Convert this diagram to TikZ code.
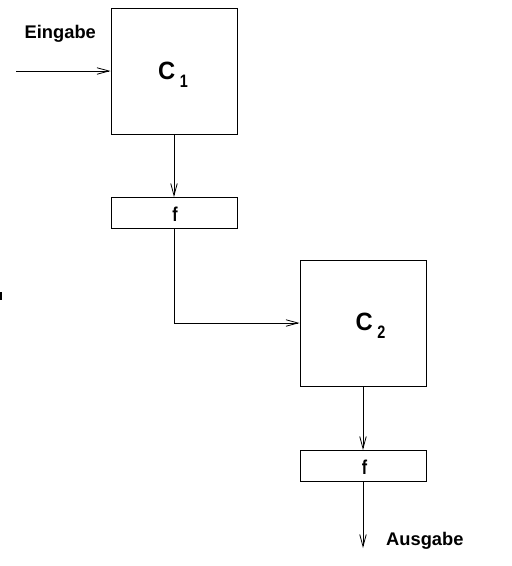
\documentclass[tikz,border=0pt]{standalone}
\usepackage{fontspec}
\setmainfont{Liberation Sans}
\newfontfamily\condfont[FakeStretch=0.8]{Liberation Sans}
\newfontfamily\cfont[FakeStretch=0.95]{Liberation Sans}
\usetikzlibrary{arrows.meta,positioning}
\newcommand{\subtxt}[1]{\raisebox{-8.5pt}{\condfont\bfseries\fontsize{18}{18}\selectfont #1}}
\begin{document}
\begin{tikzpicture}[x=1pt,y=-1pt,
  blk/.style={draw,line width=1pt,minimum width=126pt,minimum height=126pt,inner sep=0pt},
  fbox/.style={draw,line width=1pt,minimum width=126pt,minimum height=31pt,inner sep=0pt},
  ftxt/.style={font=\condfont\bfseries\fontsize{20}{20}\selectfont,inner sep=0pt,anchor=base},
  lbl/.style={font=\bfseries\fontsize{18.3}{18.3}\selectfont,inner sep=0pt,anchor=base west},
  ctxt/.style={font=\cfont\bfseries\fontsize{25}{25}\selectfont,inner sep=0pt,anchor=base west},
  conn/.style={line width=0.9pt,-{Straight Barb[length=12pt,width=6.5pt,line width=0.8pt]}}]
\useasboundingbox (0,0) rectangle (512,566);
\node[blk] (c1) at (174,71) {};
\node[ctxt] (c1t) at (157.8,79) {C\hspace{4.6pt}\subtxt{1}};
\node[fbox] (f1) at (174,213) {};
\node[ftxt] (f1t) at (175,221) {f};
\node[blk] (c2) at (363,323) {};
\node[ctxt] (c2t) at (355.5,330) {C\hspace{4.6pt}\subtxt{2}};
\node[fbox] (f2) at (363,466) {};
\node[ftxt] (f2t) at (364.5,474) {f};
\node[lbl] (ein) at (24.5,38.3) {Eingabe};
\node[lbl] (aus) at (386,545.7) {Ausgabe};
\coordinate (inp) at (16,71);
\coordinate (outp) at (363,548);
\coordinate (bend) at (174,323);
\draw[conn] (inp) -- (c1.west);
\draw[conn] (c1.south) -- (f1.north);
\draw[conn] (f1.south) -- (bend) -- (c2.west);
\draw[conn] (c2.south) -- (f2.north);
\draw[conn] (f2.south) -- (outp);
\fill (0,292) rectangle (2,300);
\end{tikzpicture}
\end{document}
